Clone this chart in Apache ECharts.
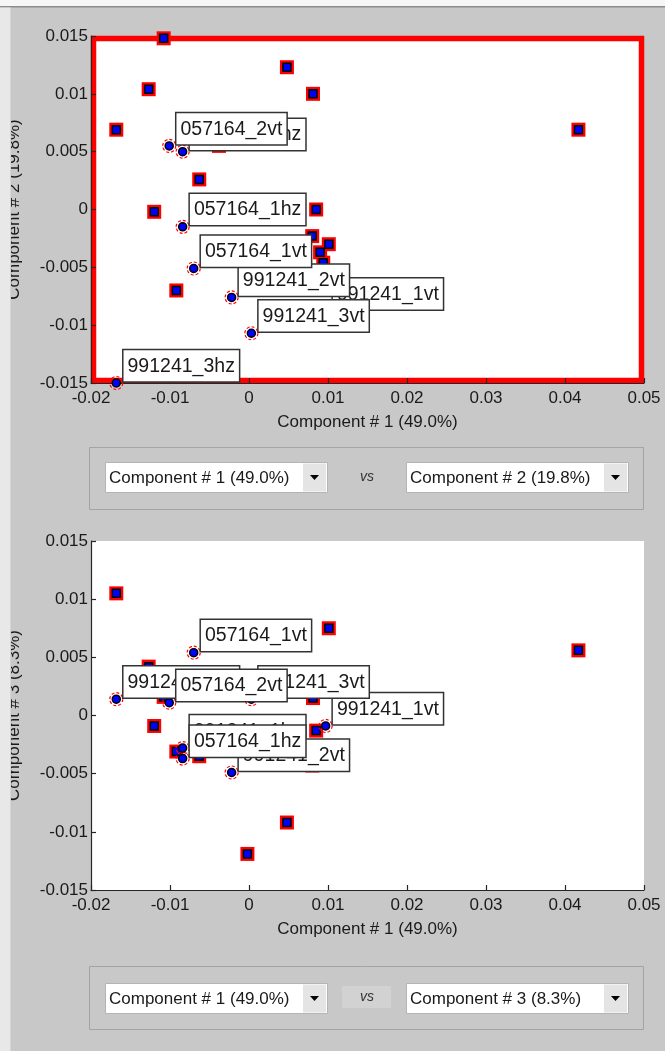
<!DOCTYPE html>
<html>
<head>
<meta charset="utf-8">
<script src="https://cdn.jsdelivr.net/npm/echarts@6/dist/echarts.min.js"></script>
<style>
  html, body { margin: 0; padding: 0; background: #c8c8c8; }
  #chart { width: 665px; height: 1051px; }
</style>
</head>
<body>
<div id="chart"></div>
<script>
// Scores of the unlabelled observations on the first three components
const otherPC1 = [-0.0108, -0.0127, -0.0168, 0.0048, 0.0081, 0.0417, -0.0063, -0.0120, 0.0085, 0.0080, 0.0101, 0.0090, 0.0094, -0.0092, -0.0038, -0.0002];
const otherPC2 = [0.0148, 0.0104, 0.0069, 0.0123, 0.0100, 0.0069, 0.0026, -0.0002, 0.0000, -0.0023, -0.0030, -0.0037, -0.0046, -0.0070, 0.0055, -0.0035];
const otherPC3 = [0.0016, 0.0042, 0.0105, -0.0092, 0.0015, 0.0056, -0.0035, -0.0009, -0.0013, -0.0043, 0.0075, 0.0030, -0.0035, -0.0031, 0.0028, -0.0119];

// Selected observations, drawn with a name tag (later entries sit on top)
const sampleNames = ['991241_3hz', '991241_1hz', '991241_1vt', '991241_2vt', '991241_3vt', '057164_1vt', '057164_2vt', '057164_1hz'];
const samplePC1 = [-0.0168, -0.0084, 0.0097, -0.0022, 0.0003, -0.0070, -0.0101, -0.0084];
const samplePC2 = [-0.0150, 0.0050, -0.0088, -0.0076, -0.0107, -0.0051, 0.0055, -0.0015];
const samplePC3 = [0.0014, -0.0028, -0.0009, -0.0049, 0.0014, 0.0054, 0.0011, -0.0037];

const componentNames = ['Component # 1 (49.0%)', 'Component # 2 (19.8%)', 'Component # 3 (8.3%)'];

// Axis ranges
const xRange = { min: -0.02, max: 0.05, interval: 0.01 };
const yRange = { min: -0.015, max: 0.015, interval: 0.005 };

const FONT = '"Liberation Sans", Arial, sans-serif';
const INK = '#1a1a1a';

const chart = echarts.init(document.getElementById('chart'), null, { renderer: 'canvas' });

const grids = [
  { left: 91, top: 36, width: 553, height: 347 },
  { left: 91, top: 541, width: 553, height: 349 }
];
const yComponent = [1, 2];
const yOther = [otherPC2, otherPC3];
const ySample = [samplePC2, samplePC3];

const tickFmt = v => String(Number(v.toFixed(3)));

function makeX(i) {
  return {
    gridIndex: i, type: 'value', min: xRange.min, max: xRange.max, interval: xRange.interval,
    name: componentNames[0], nameLocation: 'middle', nameGap: 31,
    nameTextStyle: { fontFamily: FONT, fontSize: 17, color: INK },
    axisLine: { show: true, onZero: false, lineStyle: { color: '#262626', width: 1.2 } },
    axisTick: { show: true, inside: true, length: 5, lineStyle: { color: '#262626', width: 1.2 } },
    axisLabel: { margin: 7, fontFamily: FONT, fontSize: 17, color: INK, formatter: tickFmt },
    splitLine: { show: false }, z: 2
  };
}
function makeY(i) {
  return {
    gridIndex: i, type: 'value', min: yRange.min, max: yRange.max, interval: yRange.interval,
    name: componentNames[yComponent[i]], nameLocation: 'middle', nameGap: 68,
    nameTextStyle: { fontFamily: FONT, fontSize: 17, color: INK },
    axisLine: { show: true, onZero: false, lineStyle: { color: '#262626', width: 1.2 } },
    axisTick: { show: true, inside: true, length: 5, lineStyle: { color: '#262626', width: 1.2 } },
    axisLabel: { margin: 3, fontFamily: FONT, fontSize: 17, color: INK, formatter: tickFmt },
    splitLine: { show: false }, z: 2
  };
}

const series = [];
[0, 1].forEach(i => {
  const others = otherPC1.map((x, k) => [x, yOther[i][k]]);
  const samples = samplePC1.map((x, k) => ({ name: sampleNames[k], value: [x, ySample[i][k]] }));
  const base = { type: 'scatter', xAxisIndex: i, yAxisIndex: i, silent: true, clip: false, animation: false };
  series.push(Object.assign({}, base, {
    data: others, symbol: 'rect', symbolSize: 14, z: 3,
    itemStyle: { color: '#ff0000', opacity: 1 }
  }));
  series.push(Object.assign({}, base, {
    data: others, symbol: 'rect', symbolSize: 8, z: 4,
    itemStyle: { color: '#0000ff', borderColor: '#000', borderWidth: 1.5, opacity: 1 }
  }));
  series.push(Object.assign({}, base, {
    data: samples, symbol: 'circle', symbolSize: 13, z: 5,
    itemStyle: { color: 'rgba(255,255,255,0)', borderColor: '#ff0000', borderWidth: 1.2, borderType: [3, 2], opacity: 1 }
  }));
  series.push(Object.assign({}, base, {
    data: samples, symbol: 'circle', symbolSize: 8, z: 6,
    itemStyle: { color: '#0000ff', borderColor: '#000', borderWidth: 1.5, opacity: 1 },
    label: {
      show: true, formatter: '{b}', position: [12, 3], align: 'left', verticalAlign: 'bottom',
      fontFamily: FONT, fontSize: 19.5, color: INK, lineHeight: 24,
      backgroundColor: '#ffffff', borderColor: '#333333', borderWidth: 1.5,
      padding: [4, 4, 3, 4]
    }
  }));
});

// Drop-down selector drawn as plain shapes
function dropdown(x, y, text) {
  const w = 222, h = 30;
  return {
    type: 'group', x: x, y: y, z: 10,
    children: [
      { type: 'rect', shape: { x: 0.5, y: 0.5, width: w, height: h }, style: { fill: '#ffffff', stroke: '#b4b4b4', lineWidth: 1 } },
      { type: 'rect', shape: { x: w - 24, y: 1.5, width: 23, height: h - 2 }, style: { fill: '#e4e4e4' } },
      { type: 'polygon', shape: { points: [[w - 17, h / 2 - 2], [w - 8, h / 2 - 2], [w - 12.5, h / 2 + 3]] }, style: { fill: '#000' } },
      { type: 'text', x: 4, y: h / 2 + 1, style: { text: text, font: '17px ' + FONT, fill: INK, verticalAlign: 'middle', align: 'left' } }
    ]
  };
}
function vsText(x, y, boxed) {
  const kids = [];
  if (boxed) kids.push({ type: 'rect', shape: { x: -25, y: -11, width: 49, height: 22 }, style: { fill: '#d2d2d2' } });
  kids.push({ type: 'text', x: 0, y: 0, style: { text: 'vs', font: 'italic 14px ' + FONT, fill: '#333', align: 'center', verticalAlign: 'middle' } });
  return { type: 'group', x: x, y: y, z: 10, children: kids };
}

const g0 = grids[0];
const graphic = [
  // highlight frame of the active axes
  { type: 'rect', z: 1, shape: { x: g0.left + 2.5, y: g0.top + 2.5, width: g0.width - 5, height: g0.height - 5 },
    style: { fill: null, stroke: '#ff0000', lineWidth: 5.5 } },
  // selector panels
  { type: 'rect', z: 9, shape: { x: 89.5, y: 447.5, width: 554, height: 62 }, style: { fill: null, stroke: '#a4a4a4', lineWidth: 1 } },
  dropdown(105, 462, componentNames[0]),
  vsText(367, 477, false),
  dropdown(406, 462, componentNames[1]),
  { type: 'rect', z: 9, shape: { x: 89.5, y: 966.5, width: 554, height: 63 }, style: { fill: null, stroke: '#a4a4a4', lineWidth: 1 } },
  dropdown(105, 983, componentNames[0]),
  vsText(367, 997, true),
  dropdown(406, 983, componentNames[2]),
  // window edges, kept above everything else
  { type: 'rect', zlevel: 1, z: 20, shape: { x: 0, y: 0, width: 665, height: 6 }, style: { fill: '#f6f6f6' } },
  { type: 'rect', zlevel: 1, z: 20, shape: { x: 0, y: 6, width: 665, height: 1.5 }, style: { fill: '#8c8c8c' } },
  { type: 'rect', zlevel: 1, z: 20, shape: { x: 0, y: 7.5, width: 10, height: 1044 }, style: { fill: '#e8e8e8' } },
  { type: 'rect', zlevel: 1, z: 20, shape: { x: 10, y: 7.5, width: 1, height: 1044 }, style: { fill: '#d6d6d6' } }
];

chart.setOption({
  backgroundColor: '#c8c8c8',
  animation: false,
  grid: grids.map(g => Object.assign({ show: true, backgroundColor: '#ffffff', borderWidth: 0, containLabel: false, outerBoundsMode: 'none' }, g)),
  xAxis: [makeX(0), makeX(1)],
  yAxis: [makeY(0), makeY(1)],
  series: series,
  graphic: graphic
});
</script>
</body>
</html>
